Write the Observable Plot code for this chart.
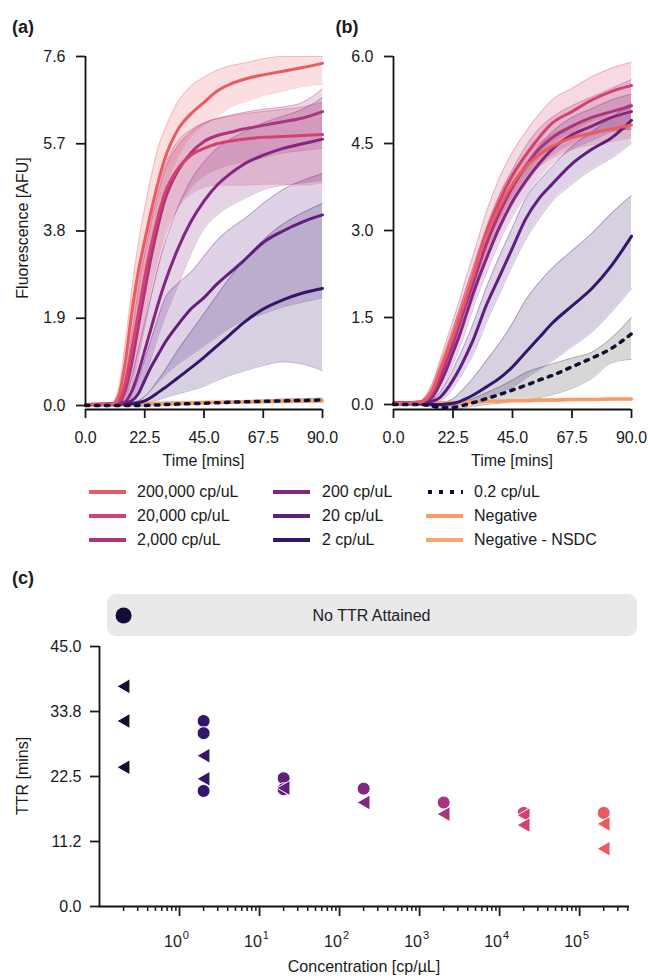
<!DOCTYPE html>
<html><head><meta charset="utf-8">
<script src="https://cdn.jsdelivr.net/npm/d3@7"></script>
<script src="https://cdn.jsdelivr.net/npm/@observablehq/plot@0.6"></script>
<style>
body{margin:0;background:#fff;font-family:"Liberation Sans",Arial,sans-serif;color:#1a1a1a;}
#fig{position:relative;width:648px;height:976px;overflow:hidden;background:#fff;}
.t{position:absolute;font-size:16px;line-height:1;white-space:nowrap;}
.pl{position:absolute;font-size:18px;font-weight:bold;line-height:1;}
</style></head>
<body><div id="fig"></div>
<script>
// ---------- data ----------
const T = [0,10,12.5,15,17.5,20,22.5,25,27.5,30,35,40,45,50,55,60,67.5,75,82.5,90];
const seriesKeys = ["200000","20000","2000","200","20","2","0.2","neg","nsdc"];
const legendLabels = ["200,000 cp/uL","20,000 cp/uL","2,000 cp/uL","200 cp/uL","20 cp/uL","2 cp/uL","0.2 cp/uL","Negative","Negative - NSDC"];

// panel (a) mean / lower / upper, rows in seriesKeys order
const aMean = [
 [0.02,0.03,0.2,0.9,2.0,2.9,3.6,4.25,4.85,5.35,6.0,6.35,6.6,6.85,7.0,7.1,7.2,7.28,7.36,7.45],
 [0.02,0.03,0.1,0.45,1.2,2.0,2.8,3.5,4.1,4.6,5.15,5.45,5.6,5.7,5.76,5.8,5.84,5.86,5.88,5.9],
 [0.02,0.03,0.06,0.3,0.9,1.7,2.5,3.25,3.9,4.45,5.1,5.5,5.75,5.88,5.95,6.02,6.1,6.18,6.26,6.4],
 [0.02,0.03,0.04,0.08,0.3,0.7,1.2,1.7,2.2,2.65,3.4,4.0,4.45,4.8,5.05,5.25,5.45,5.6,5.7,5.8],
 [0.02,0.03,0.04,0.06,0.1,0.25,0.55,0.85,1.1,1.35,1.75,2.1,2.35,2.65,2.9,3.15,3.55,3.8,4.0,4.15],
 [0.02,0.02,0.03,0.03,0.04,0.06,0.1,0.18,0.28,0.38,0.6,0.82,1.05,1.3,1.55,1.8,2.1,2.3,2.45,2.55],
 [0,0,0,0,0,0,0,0.01,0.01,0.02,0.03,0.04,0.05,0.06,0.07,0.08,0.09,0.1,0.11,0.12],
 [0.02,0.02,0.03,0.03,0.03,0.04,0.04,0.04,0.05,0.05,0.06,0.06,0.07,0.07,0.08,0.08,0.09,0.1,0.1,0.11],
 [0.01,0.02,0.02,0.02,0.03,0.03,0.03,0.04,0.04,0.05,0.05,0.06,0.06,0.07,0.07,0.08,0.08,0.09,0.09,0.1]
];
const aLo = [
 [0,0.01,0.08,0.5,1.4,2.3,3.0,3.6,4.2,4.7,5.4,5.85,6.1,6.3,6.5,6.6,6.75,6.85,6.95,7.0],
 [0,0.01,0.04,0.2,0.6,1.2,1.9,2.6,3.2,3.7,4.3,4.6,4.75,4.8,4.8,4.8,4.82,4.82,4.8,4.85],
 [0,0.01,0.02,0.1,0.4,1.0,1.7,2.4,3.0,3.6,4.3,4.75,5.0,5.15,5.25,5.3,5.4,5.5,5.55,5.6],
 [0,0.01,0.02,0.03,0.1,0.3,0.65,1.05,1.5,1.9,2.6,3.3,3.85,4.15,4.35,4.5,4.7,4.8,4.85,4.9],
 [0,0.01,0.02,0.03,0.05,0.1,0.2,0.35,0.5,0.65,0.9,1.1,1.3,1.5,1.7,1.85,2.0,2.15,2.25,2.35],
 [0,0,0.01,0.01,0.02,0.03,0.05,0.08,0.12,0.17,0.25,0.33,0.42,0.55,0.66,0.75,0.87,0.95,0.9,0.76],
 [-0.02,-0.02,-0.02,-0.02,-0.02,-0.02,-0.02,-0.01,-0.01,0,0.01,0.02,0.03,0.04,0.04,0.05,0.06,0.06,0.07,0.08],
 [0,0,0.01,0.01,0.01,0.02,0.02,0.02,0.03,0.03,0.04,0.04,0.05,0.05,0.05,0.06,0.06,0.07,0.07,0.08],
 [0,0,0,0.01,0.01,0.01,0.01,0.02,0.02,0.02,0.03,0.03,0.04,0.04,0.05,0.05,0.05,0.06,0.06,0.07]
];
const aHi = [
 [0.04,0.06,0.35,1.3,2.5,3.5,4.3,5.0,5.6,6.0,6.6,6.95,7.15,7.3,7.4,7.45,7.55,7.6,7.6,7.6],
 [0.04,0.05,0.2,0.8,1.8,2.7,3.5,4.2,4.8,5.2,5.75,6.0,6.15,6.25,6.3,6.35,6.4,6.45,6.5,6.6],
 [0.04,0.05,0.15,0.6,1.5,2.5,3.3,4.0,4.6,5.1,5.65,5.95,6.15,6.25,6.32,6.38,6.45,6.5,6.6,6.9],
 [0.04,0.05,0.06,0.15,0.6,1.2,1.8,2.4,3.0,3.5,4.3,4.9,5.3,5.6,5.8,5.95,6.15,6.3,6.45,6.7],
 [0.04,0.05,0.06,0.1,0.25,0.55,1.0,1.45,1.9,2.3,2.65,2.9,3.25,3.6,3.85,4.05,4.4,4.7,4.9,5.05],
 [0.04,0.04,0.05,0.05,0.07,0.1,0.2,0.35,0.55,0.75,1.2,1.6,2.0,2.4,2.8,3.15,3.6,3.95,4.2,4.4],
 [0.02,0.02,0.02,0.02,0.02,0.02,0.03,0.03,0.04,0.04,0.05,0.06,0.07,0.08,0.1,0.11,0.12,0.14,0.15,0.16],
 [0.04,0.04,0.05,0.05,0.05,0.06,0.06,0.07,0.07,0.08,0.08,0.09,0.1,0.1,0.11,0.11,0.12,0.13,0.13,0.14],
 [0.03,0.03,0.04,0.04,0.04,0.05,0.05,0.06,0.06,0.07,0.07,0.08,0.08,0.09,0.09,0.1,0.11,0.12,0.12,0.13]
];

// panel (b)
const bMean = [
 [0.02,0.04,0.1,0.28,0.58,0.88,1.18,1.52,1.86,2.2,2.9,3.4,3.8,4.1,4.3,4.45,4.6,4.68,4.75,4.82],
 [0.02,0.04,0.1,0.25,0.55,0.85,1.15,1.5,1.85,2.2,2.95,3.5,3.95,4.3,4.6,4.85,5.05,5.25,5.4,5.5],
 [0.02,0.04,0.08,0.2,0.45,0.75,1.05,1.4,1.75,2.08,2.75,3.3,3.75,4.1,4.4,4.6,4.8,4.95,5.05,5.15],
 [0.02,0.03,0.06,0.15,0.35,0.6,0.9,1.2,1.55,1.9,2.5,3.05,3.5,3.85,4.15,4.4,4.65,4.8,4.95,5.05],
 [0.02,0.03,0.04,0.06,0.12,0.25,0.42,0.62,0.85,1.1,1.7,2.2,2.7,3.2,3.55,3.8,4.15,4.4,4.6,4.9],
 [0.01,0.01,0.01,0,0,0.01,0.02,0.05,0.1,0.16,0.3,0.45,0.65,0.9,1.15,1.4,1.7,2.0,2.4,2.9],
 [0,0,-0.01,-0.03,-0.05,-0.05,-0.05,-0.03,0,0.03,0.1,0.17,0.25,0.33,0.42,0.5,0.65,0.8,0.97,1.22],
 [0.02,0.02,0.02,0.03,0.03,0.03,0.04,0.04,0.05,0.05,0.06,0.06,0.07,0.07,0.08,0.08,0.09,0.09,0.1,0.1],
 [0.01,0.02,0.02,0.02,0.03,0.03,0.03,0.04,0.04,0.04,0.05,0.05,0.06,0.06,0.07,0.07,0.08,0.08,0.09,0.09]
];
const bLo = [
 [0,0.02,0.06,0.18,0.45,0.75,1.05,1.38,1.72,2.05,2.75,3.2,3.6,3.9,4.1,4.25,4.4,4.48,4.53,4.6],
 [0,0.02,0.05,0.15,0.4,0.65,0.95,1.25,1.6,1.9,2.6,3.15,3.6,3.95,4.25,4.5,4.7,4.9,5.0,5.1],
 [0,0.02,0.04,0.1,0.3,0.55,0.85,1.15,1.5,1.8,2.5,3.0,3.45,3.8,4.1,4.3,4.5,4.65,4.72,4.75],
 [0,0.01,0.03,0.08,0.22,0.42,0.7,0.98,1.3,1.65,2.25,2.8,3.25,3.6,3.9,4.15,4.4,4.55,4.7,4.75],
 [0,0.01,0.02,0.03,0.06,0.14,0.28,0.45,0.65,0.85,1.4,1.9,2.4,2.85,3.2,3.5,3.8,4.05,4.25,4.5],
 [0,0,0,-0.02,-0.03,-0.03,-0.02,0,0.02,0.05,0.1,0.2,0.3,0.45,0.6,0.75,1.0,1.25,1.6,2.0],
 [0,0,-0.02,-0.05,-0.07,-0.08,-0.08,-0.07,-0.05,-0.03,0,0.02,0.05,0.08,0.12,0.17,0.28,0.45,0.72,0.78],
 [0.01,0.01,0.01,0.02,0.02,0.02,0.03,0.03,0.04,0.04,0.05,0.05,0.06,0.06,0.07,0.07,0.08,0.08,0.09,0.09],
 [0,0.01,0.01,0.01,0.02,0.02,0.02,0.03,0.03,0.03,0.04,0.04,0.05,0.05,0.06,0.06,0.07,0.07,0.08,0.08]
];
const bHi = [
 [0.04,0.06,0.15,0.38,0.7,1.0,1.32,1.66,2.0,2.35,3.05,3.6,4.0,4.3,4.5,4.65,4.8,4.9,4.97,5.02],
 [0.04,0.06,0.18,0.4,0.75,1.1,1.45,1.8,2.2,2.55,3.3,3.9,4.35,4.7,5.0,5.25,5.45,5.65,5.8,5.9],
 [0.04,0.06,0.14,0.32,0.62,0.95,1.3,1.65,2.0,2.35,3.0,3.6,4.05,4.45,4.75,4.95,5.15,5.3,5.45,5.6],
 [0.04,0.05,0.1,0.25,0.5,0.8,1.1,1.45,1.8,2.15,2.8,3.35,3.8,4.15,4.45,4.7,4.95,5.1,5.25,5.35],
 [0.04,0.05,0.06,0.1,0.2,0.38,0.6,0.85,1.1,1.38,2.0,2.55,3.05,3.55,3.85,4.1,4.45,4.7,4.95,5.2],
 [0.02,0.02,0.02,0.02,0.03,0.05,0.1,0.2,0.32,0.45,0.75,1.05,1.4,1.8,2.1,2.35,2.65,2.95,3.3,3.6],
 [0.02,0.02,0.01,0,-0.02,-0.02,-0.01,0.02,0.06,0.1,0.2,0.3,0.42,0.55,0.63,0.7,0.8,0.9,1.15,1.5],
 [0.03,0.03,0.03,0.04,0.04,0.04,0.05,0.05,0.06,0.06,0.07,0.07,0.08,0.08,0.09,0.09,0.1,0.1,0.11,0.11],
 [0.02,0.03,0.03,0.03,0.04,0.04,0.04,0.05,0.05,0.05,0.06,0.06,0.07,0.07,0.08,0.08,0.09,0.09,0.1,0.1]
];

// axis ticks
const xTicksAB = [0,22.5,45,67.5,90];
const yTicksA = [0,1.9,3.8,5.7,7.6];
const yTicksB = [0,1.5,3.0,4.5,6.0];

// panel (c)
const circleConc = ["2","2","2","20","20","200","2000","20000","200000"];
const circleTTR  = [32.1,30.0,20.0,22.2,20.3,20.4,18.0,16.2,16.2];
const triConc = ["0.2","0.2","0.2","2","2","20","200","2000","20000","20000","200000","200000"];
const triTTR  = [38.1,32.1,24.1,26.1,22.1,20.5,18.0,16.0,15.8,14.1,14.3,10.0];
const noTTRConc = ["0.2"];
const noTTRLabel = ["No TTR Attained"];
const yTicksC = [0,11.25,22.5,33.75,45];
const yTickLabelsC = ["0.0","11.2","22.5","33.8","45.0"];
const xMajorC = [1,10,100,1000,10000,100000];
const xMajorExpC = ["0","1","2","3","4","5"];

// ---------- styling ----------
const colors = ["#ec5a5f","#d2426f","#aa357c","#822681","#5e1f80","#33156a","#140e36","#fb9a66","#fca36e"];
const greyBand = "#8c8c8c";
const FONT = "'Liberation Sans', Arial, sans-serif";
const svgStyle = {background:"transparent", overflow:"visible", fontFamily:FONT, fontSize:"16px", color:"#1a1a1a"};
const fig = document.getElementById("fig");

function build(means, los, his){
  const out = [];
  seriesKeys.forEach((k,i)=>T.forEach((t,j)=>out.push({key:k,t,m:means[i][j],lo:los[i][j],hi:his[i][j]})));
  return out;
}
const drawOrder = ["nsdc","neg","2","20","200","2000","20000","200000"];

function timePanel(data, yTicks, yBottom, opts){
  const bands = data.filter(d=>d.key!=="0.2");
  const dots = data.filter(d=>d.key==="0.2");
  const lines = drawOrder.flatMap(k=>data.filter(d=>d.key===k));
  const yTop = d3.max(yTicks);
  return Plot.plot({
    width:opts.width, height:430, marginLeft:opts.ml, marginRight:opts.mr, marginTop:16, marginBottom:61,
    style:svgStyle,
    x:{domain:[0,90], label:null},
    y:{domain:[yBottom,yTop], label:null},
    color:{domain:seriesKeys, range:colors},
    marks:[
      Plot.areaY(dots,{x:"t",y1:"lo",y2:"hi",fill:greyBand,fillOpacity:0.35,curve:"monotone-x"}),
      Plot.lineY(dots,{x:"t",y:"lo",stroke:greyBand,strokeOpacity:0.6,strokeWidth:1,curve:"monotone-x"}),
      Plot.lineY(dots,{x:"t",y:"hi",stroke:greyBand,strokeOpacity:0.6,strokeWidth:1,curve:"monotone-x"}),
      Plot.areaY(bands,{x:"t",y1:"lo",y2:"hi",fill:"key",fillOpacity:0.2,curve:"monotone-x"}),
      Plot.lineY(bands,{x:"t",y:"lo",stroke:"key",strokeOpacity:0.3,strokeWidth:1,curve:"monotone-x"}),
      Plot.lineY(bands,{x:"t",y:"hi",stroke:"key",strokeOpacity:0.3,strokeWidth:1,curve:"monotone-x"}),
      Plot.lineY(lines,{x:"t",y:"m",z:"key",stroke:"key",strokeWidth:3,curve:"monotone-x"}),
      Plot.lineY(dots,{x:"t",y:"m",stroke:colors[6],strokeWidth:3.5,strokeDasharray:"3.5,6.5",curve:"monotone-x"}),
      Plot.ruleX([0],{y1:0,y2:yTop,stroke:"#111",strokeWidth:1.8}),
      Plot.ruleY([yBottom],{x1:0,x2:90,stroke:"#111",strokeWidth:1.8}),
      Plot.axisY({ticks:yTicks,tickFormat:d=>d.toFixed(1),tickSize:9,tickPadding:11,strokeWidth:1.8,label:null}),
      Plot.axisX({ticks:xTicksAB,tickFormat:d=>d.toFixed(1),tickSize:9,tickPadding:13,strokeWidth:1.8,label:null})
    ]
  });
}

function put(node,left,top){node.style.position="absolute";node.style.left=left+"px";node.style.top=top+"px";fig.appendChild(node);return node;}
function text(str,cls,x,y,rot){
  const d=document.createElement("div");d.className=cls;d.textContent=str;
  d.style.left=x+"px";d.style.top=y+"px";
  d.style.transform="translate(-50%,-50%)"+(rot?" rotate(-90deg)":"");
  fig.appendChild(d);return d;
}

// panel (a)
put(timePanel(build(aMean,aLo,aHi), yTicksA, -0.0871, {width:340, ml:85, mr:18}), 0, 40);
// panel (b)
put(timePanel(build(bMean,bLo,bHi), yTicksB, -0.086, {width:318, ml:63, mr:17}), 330, 40);

// axis titles & panel letters
text("(a)","pl",23,27);
text("(b)","pl",347,27);
text("(c)","pl",23,578);
text("Fluorescence [AFU]","t",23,228,true);
text("Time [mins]","t",203.5,461);
text("Time [mins]","t",512,461);
text("TTR [mins]","t",23,776,true);
text("Concentration [cp/\u00b5L]","t",364,967);

// legend
const swL=[89,273,426], txL=[137,322,474], rowY=[492,516,540];
legendLabels.forEach((lab,i)=>{
  const c=Math.floor(i/3), r=i%3;
  const svg=d3.create("svg").attr("width",37).attr("height",8);
  const ln=svg.append("line").attr("x1",0).attr("x2",37).attr("y1",4).attr("y2",4)
    .attr("stroke",colors[i]).attr("stroke-width",4);
  if(seriesKeys[i]==="0.2") ln.attr("stroke-dasharray","4,7").attr("x1",2);
  put(svg.node(),swL[c],rowY[r]-4);
  const d=document.createElement("div");d.className="t";d.textContent=lab;
  d.style.left=txL[c]+"px";d.style.top=rowY[r]+"px";d.style.transform="translateY(-50%)";
  fig.appendChild(d);
});

// panel (c) box
const box=document.createElement("div");
Object.assign(box.style,{position:"absolute",left:"107px",top:"594px",width:"530px",height:"42px",borderRadius:"9px",background:"#e9e9eb"});
fig.appendChild(box);

const concKeys = seriesKeys.slice(0,7);
const circles = circleConc.map((c,i)=>({c,x:+c,y:circleTTR[i]}));
const tris = triConc.map((c,i)=>({c,x:+c,y:triTTR[i]}));
const majorLabels = xMajorC.map((v,i)=>({v,exp:xMajorExpC[i]}));
const minorC = [];
for (let e=-1;e<=5;e++) for (let m=2;m<=9;m++){ const v=m*Math.pow(10,e); if(v<=4.2e5) minorC.push(v); }

const pc = Plot.plot({
  width:648, height:416, marginLeft:99, marginRight:19, marginTop:86, marginBottom:70,
  style:svgStyle,
  x:{type:"log", domain:[0.1,4.2e5], label:null},
  y:{domain:[0,45], label:null},
  color:{domain:concKeys, range:colors.slice(0,7)},
  marks:[
    Plot.ruleX([0.1],{y1:0,y2:45,stroke:"#111",strokeWidth:1.8}),
    Plot.ruleY([0],{x1:0.1,x2:4.2e5,stroke:"#111",strokeWidth:1.8}),
    Plot.axisY({ticks:yTicksC,tickFormat:(d,i)=>yTickLabelsC[i],tickSize:9,tickPadding:9,strokeWidth:1.8,label:null}),
    Plot.axisX({ticks:xMajorC,tickFormat:()=>"",tickSize:10,strokeWidth:1.8,label:null}),
    Plot.axisX({ticks:minorC,tickFormat:()=>"",tickSize:5,strokeWidth:1.5,label:null}),
    Plot.text(majorLabels,{x:"v",text:"exp",className:"pow",frameAnchor:"bottom",lineAnchor:"bottom",dy:40,dx:-3,fontSize:16,fill:"#1a1a1a"}),
    Plot.dot(circles,{x:"x",y:"y",fill:"c",r:6.5,stroke:"white",strokeWidth:1}),
    Plot.dot(tris,{x:"x",y:"y",fill:"c",symbol:"triangle",rotate:-90,r:5.6,dx:2,stroke:"white",strokeWidth:1}),
    Plot.dot(noTTRConc,{x:d=>+d,fill:d=>d,frameAnchor:"top",dy:-31,r:8}),
    Plot.text(noTTRLabel,{text:d=>d,frameAnchor:"top",lineAnchor:"middle",dy:-31,dx:7,fontSize:16,fill:"#222"})
  ]
});
// render exponents as "10" + raised superscript
d3.select(pc).selectAll("g.pow text").each(function(){
  const e=this.textContent; const s=d3.select(this); s.text("10");
  s.append("tspan").attr("font-size",11).attr("dy","-0.65em").attr("dx","1").text(e);
});
put(pc,0,560);
</script>
</body></html>
